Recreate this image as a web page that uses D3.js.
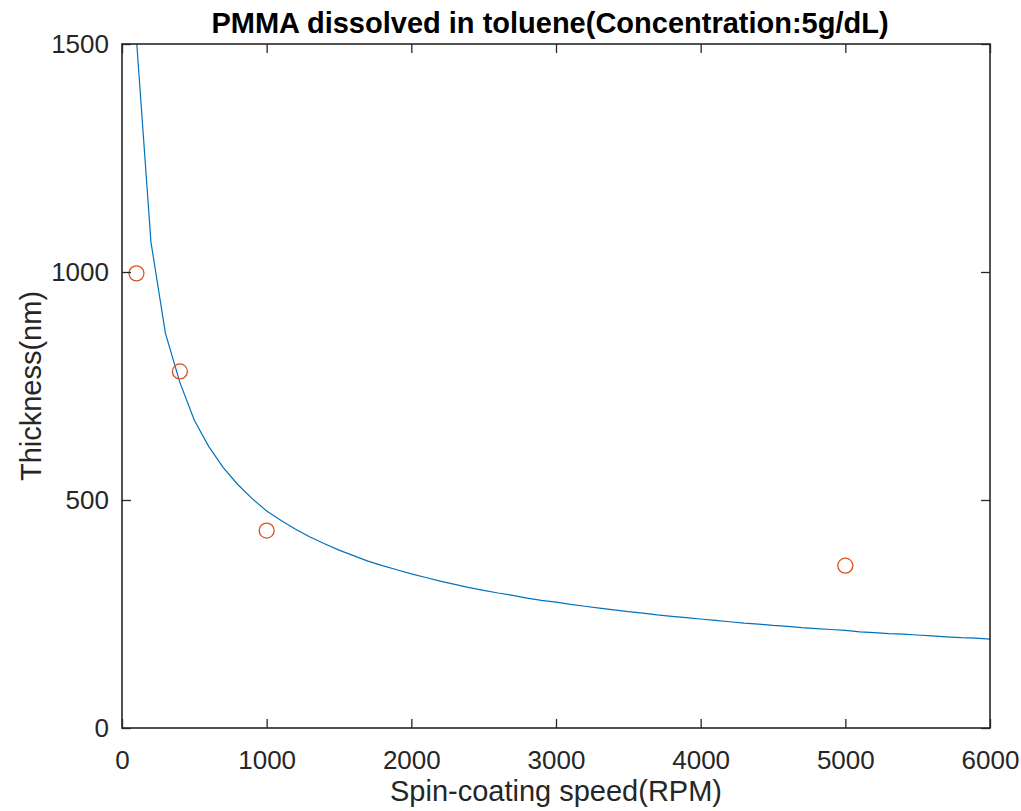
<!DOCTYPE html>
<html>
<head>
<meta charset="utf-8">
<script src="https://cdn.jsdelivr.net/npm/d3@7"></script>
<style>
  body { margin: 0; background: #fff; }
  svg { display: block; font-family: "Liberation Sans", Arial, sans-serif; }
</style>
</head>
<body>
<div id="chart"></div>
<script>
// measured thickness points
const speeds = [100, 400, 1000, 5000];
const thickness = [997, 782, 433, 356];

// fitted curve
const fitSpeeds = [100, 200, 300, 400, 500, 600, 700, 800, 900, 1000,
  1100, 1200, 1300, 1400, 1500, 1600, 1700, 1800, 1900, 2000,
  2100, 2200, 2300, 2400, 2500, 2600, 2700, 2800, 2900, 3000,
  3100, 3200, 3300, 3400, 3500, 3600, 3700, 3800, 3900, 4000,
  4100, 4200, 4300, 4400, 4500, 4600, 4700, 4800, 4900, 5000,
  5100, 5200, 5300, 5400, 5500, 5600, 5700, 5800, 5900, 6000];
const fitThickness = [1510, 1066, 866, 758, 675, 617, 571, 534, 503, 476,
  455, 436, 419, 404, 390, 378, 366, 356, 347, 338,
  330, 322, 315, 308, 302, 296, 291, 285, 280, 276,
  271, 267, 263, 259, 255, 252, 248, 245, 242, 239,
  236, 233, 230, 228, 225, 223, 220, 218, 216, 214,
  211, 209, 207, 206, 204, 202, 200, 198, 197, 195];

const xTicks = [0, 1000, 2000, 3000, 4000, 5000, 6000];
const yTicks = [0, 500, 1000, 1500];

const width = 1021, height = 811;
const margin = { left: 122, right: 31, top: 44, bottom: 83 };
const innerW = width - margin.left - margin.right;
const innerH = height - margin.top - margin.bottom;
const ink = '#262626';

const svg = d3.select('#chart').append('svg')
  .attr('width', width)
  .attr('height', height);

const g = svg.append('g')
  .attr('transform', `translate(${margin.left},${margin.top})`);

const x = d3.scaleLinear().domain([0, 6000]).range([0, innerW]);
const y = d3.scaleLinear().domain([0, 1500]).range([innerH, 0]);

g.append('clipPath').attr('id', 'plot-clip')
  .append('rect').attr('width', innerW).attr('height', innerH);

// fit line
const line = d3.line()
  .x((d, i) => x(fitSpeeds[i]))
  .y(d => y(d));

g.append('path')
  .datum(fitThickness)
  .attr('clip-path', 'url(#plot-clip)')
  .attr('fill', 'none')
  .attr('stroke', '#0072BD')
  .attr('stroke-width', 1.2)
  .attr('d', line);

// data markers
g.selectAll('.pt')
  .data(speeds)
  .join('circle')
  .attr('class', 'pt')
  .attr('cx', d => x(d))
  .attr('cy', (d, i) => y(thickness[i]))
  .attr('r', 7.5)
  .attr('fill', 'none')
  .attr('stroke', '#D95319')
  .attr('stroke-width', 1.3);

// axes (ticks inward, MATLAB style)
const tickLen = 9;
const styleAxis = sel => {
  sel.select('.domain').remove();
  sel.selectAll('.tick line').attr('stroke', ink).attr('stroke-width', 1.3);
  sel.selectAll('.tick text')
    .attr('fill', ink)
    .style('font-size', '26px');
};

g.append('g')
  .attr('transform', `translate(0,${innerH})`)
  .call(d3.axisBottom(x).tickValues(xTicks).tickSize(-tickLen).tickPadding(23).tickFormat(d3.format('d')))
  .call(styleAxis);

g.append('g')
  .call(d3.axisTop(x).tickValues(xTicks).tickSize(-tickLen).tickFormat(''))
  .call(styleAxis);

g.append('g')
  .call(d3.axisLeft(y).tickValues(yTicks).tickSize(-tickLen).tickPadding(13).tickFormat(d3.format('d')))
  .call(styleAxis);

g.append('g')
  .attr('transform', `translate(${innerW},0)`)
  .call(d3.axisRight(y).tickValues(yTicks).tickSize(-tickLen).tickFormat(''))
  .call(styleAxis);

// box
g.append('rect')
  .attr('width', innerW)
  .attr('height', innerH)
  .attr('fill', 'none')
  .attr('stroke', ink)
  .attr('stroke-width', 1.6);

// labels
svg.append('text')
  .attr('x', margin.left + innerW / 2)
  .attr('y', 801)
  .attr('text-anchor', 'middle')
  .attr('fill', ink)
  .style('font-size', '29px')
  .text('Spin-coating speed(RPM)');

svg.append('text')
  .attr('transform', `translate(41,${margin.top + innerH / 2}) rotate(-90)`)
  .attr('text-anchor', 'middle')
  .attr('fill', ink)
  .style('font-size', '29px')
  .text('Thickness(nm)');

svg.append('text')
  .attr('x', margin.left + innerW / 2 - 6)
  .attr('y', 33)
  .attr('text-anchor', 'middle')
  .attr('fill', '#000')
  .style('font-size', '29px')
  .style('font-weight', 'bold')
  .text('PMMA dissolved in toluene(Concentration:5g/dL)');
</script>
</body>
</html>
